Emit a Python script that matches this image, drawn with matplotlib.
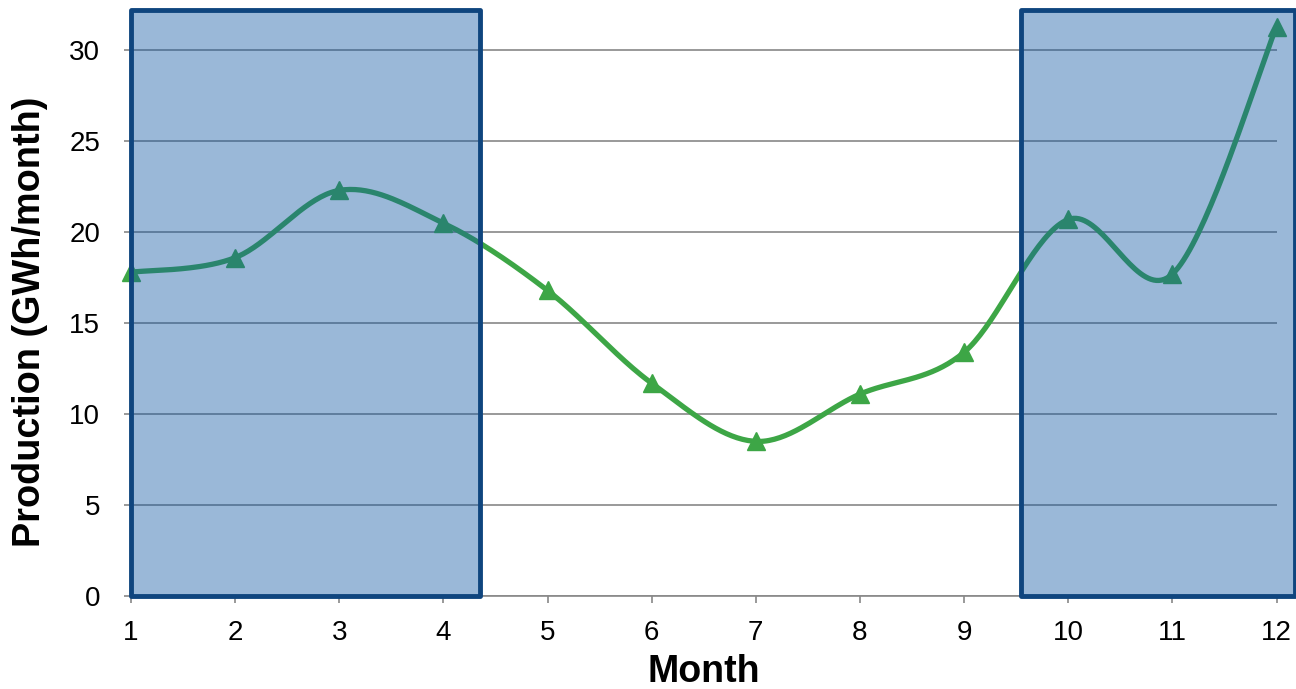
import numpy as np
import matplotlib.pyplot as plt
from matplotlib.patches import Rectangle

plt.rcParams['font.family'] = ['Liberation Sans', 'DejaVu Sans']

months = [1, 2, 3, 4, 5, 6, 7, 8, 9, 10, 11, 12]
production = [17.8, 18.6, 22.3, 20.5, 16.8, 11.7, 8.5, 11.1, 13.4, 20.7, 17.7, 31.3]
# shaded periods (month ranges)
periods = [(1.0, 4.35), (9.55, 12.18)]
ytop = 32.2


def smooth(x, y, n=40):
    """Excel-like smoothed line: cubic bezier through each pair of points."""
    x = np.asarray(x, float)
    y = np.asarray(y, float)
    px = np.concatenate([[x[0]], x, [x[-1]]])
    py = np.concatenate([[y[0]], y, [y[-1]]])
    t = np.linspace(0, 1, n)[:, None]
    xs, ys = [], []
    for i in range(1, len(px) - 2):
        p0 = np.array([px[i], py[i]])
        p3 = np.array([px[i + 1], py[i + 1]])
        p1 = p0 + (np.array([px[i + 1], py[i + 1]]) - np.array([px[i - 1], py[i - 1]])) / 6
        p2 = p3 - (np.array([px[i + 2], py[i + 2]]) - np.array([px[i], py[i]])) / 6
        pts = ((1 - t) ** 3) * p0 + 3 * ((1 - t) ** 2) * t * p1 \
            + 3 * (1 - t) * t ** 2 * p2 + t ** 3 * p3
        xs.append(pts[:, 0])
        ys.append(pts[:, 1])
    return np.concatenate(xs), np.concatenate(ys)


fig = plt.figure(figsize=(12.96, 6.89), dpi=100)
ax = fig.add_axes([0.101, 0.135, 0.884, 0.850])

sx, sy = smooth(months, production)
ax.plot(sx, sy, color='#3DA646', lw=3.8, solid_capstyle='round', zorder=3)
ax.plot(months, production, ls='none', marker='^', ms=13.5, color='#3DA646',
        clip_on=False, zorder=4)

#
# Shaded periods, drawn over the line like in the original
for x0, x1 in periods:
    ax.add_patch(Rectangle((x0, 0), x1 - x0, ytop, facecolor='#1158A3',
                           alpha=0.425, edgecolor='none', clip_on=False, zorder=5))
    ax.add_patch(Rectangle((x0, 0), x1 - x0, ytop, facecolor='none',
                           edgecolor='#0F457E', lw=3.5, clip_on=False,
                           joinstyle='round', zorder=6))

ax.set_xlim(1, 12)
ax.set_ylim(0, ytop)
ax.set_xticks(months)
ax.set_yticks(np.arange(0, 31, 5))
ax.grid(axis='y', color='#888888', lw=1.2, zorder=1)
for s in ['top', 'right', 'left']:
    ax.spines[s].set_visible(False)
ax.spines['bottom'].set_color('#888888')
ax.spines['bottom'].set_linewidth(1.2)
ax.tick_params(axis='both', colors='#888888', labelcolor='black', labelsize=20,
               length=5, width=1.2)
ax.tick_params(axis='x', pad=12)
ax.tick_params(axis='y', pad=17)

ax.set_xlabel('Month', fontsize=27, fontweight='bold', labelpad=6)
ax.set_ylabel('Production (GWh/month)', fontsize=27.3, fontweight='bold')
ax.yaxis.set_label_coords(-0.072, 0.468)

fig.savefig('out.png', dpi=100)
